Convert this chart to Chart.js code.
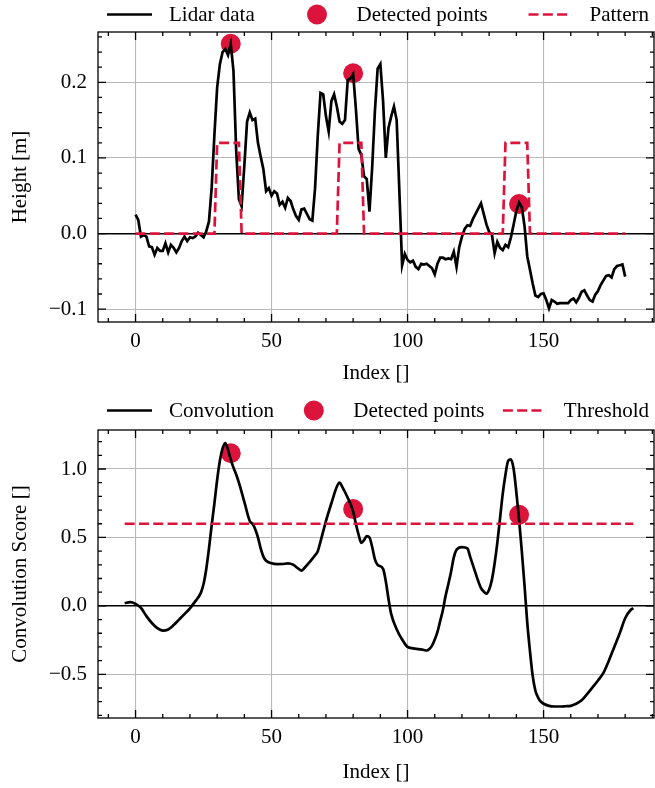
<!DOCTYPE html>
<html>
<head>
<meta charset="utf-8">
<script src="https://cdn.jsdelivr.net/npm/chart.js@4.4.1/dist/chart.umd.min.js"></script>
<style>
  html, body { margin: 0; padding: 0; background: #fff; }
  #wrap { position: relative; width: 655px; height: 788px; }
  canvas { position: absolute; left: 0; }
</style>
</head>
<body>
<div id="wrap">
  <canvas id="lidarChart" width="655" height="392" style="top:0"></canvas>
  <canvas id="convChart" width="655" height="396" style="top:392px"></canvas>
</div>
<script>
// ---- data ----
const lidarHeight = [
  0.025, 0.018, -0.004, -0.002, -0.004, -0.017, -0.018, -0.028, -0.019, -0.023,
  -0.023, -0.013, -0.025, -0.015, -0.019, -0.025, -0.019, -0.010, -0.004, -0.010,
  -0.005, -0.006, -0.004, 0.001, -0.002, -0.005, 0.003, 0.016, 0.061, 0.131,
  0.193, 0.224, 0.240, 0.244, 0.236, 0.251, 0.215, 0.110, 0.045, 0.036,
  0.090, 0.148, 0.160, 0.150, 0.152, 0.120, 0.102, 0.085, 0.056, 0.060,
  0.050, 0.056, 0.053, 0.038, 0.042, 0.034, 0.047, 0.043, 0.032, 0.023,
  0.018, 0.032, 0.033, 0.026, 0.019, 0.017, 0.060, 0.130, 0.186, 0.184,
  0.155, 0.135, 0.175, 0.184, 0.168, 0.148, 0.145, 0.150, 0.203, 0.205,
  0.211, 0.165, 0.112, 0.104, 0.076, 0.072, 0.029, 0.088, 0.162, 0.218,
  0.224, 0.175, 0.100, 0.140, 0.155, 0.168, 0.150, 0.055, -0.042, -0.027,
  -0.035, -0.038, -0.036, -0.044, -0.047, -0.040, -0.041, -0.040, -0.043, -0.046,
  -0.054, -0.040, -0.032, -0.032, -0.034, -0.033, -0.034, -0.024, -0.044, -0.018,
  -0.004, 0.006, 0.011, 0.010, 0.019, 0.026, 0.033, 0.040, 0.026, 0.012,
  0.002, -0.001, -0.026, -0.011, -0.019, -0.022, -0.015, -0.018, -0.005, 0.012,
  0.030, 0.041, 0.035, 0.010, -0.030, -0.048, -0.066, -0.082, -0.084, -0.080,
  -0.079, -0.088, -0.099, -0.088, -0.090, -0.093, -0.092, -0.092, -0.092, -0.092,
  -0.088, -0.086, -0.091, -0.085, -0.077, -0.075, -0.082, -0.088, -0.090, -0.081,
  -0.076, -0.068, -0.062, -0.056, -0.055, -0.058, -0.047, -0.043, -0.042, -0.041,
  -0.057
];

const patternIndex = [0, 29, 30, 38, 39, 74, 75, 83, 84, 135, 136, 144, 145, 180];
const patternHeight = [0, 0, 0.12, 0.12, 0, 0, 0.12, 0.12, 0, 0, 0.12, 0.12, 0, 0];

const detectedIndex = [35, 80, 141];
const detectedHeight = [0.251, 0.212, 0.039];
const detectedScore = [1.115, 0.707, 0.666];

const convIndex = [
  -4, -2, 0, 2, 4, 6, 8, 10, 12, 14, 16, 18, 20, 22, 24, 25, 26, 27, 28, 29,
  30, 31, 32, 33, 34, 35, 36, 37, 38, 40, 42, 43, 44, 45, 46, 47, 48, 50, 52, 54,
  56, 58, 60, 61, 62, 64, 66, 67, 68, 70, 72, 74, 75, 76, 78, 80, 81, 82, 83, 84,
  85, 86, 87, 88, 89, 91, 92, 93, 94, 96, 98, 100, 102, 104, 106, 107, 108, 109, 110, 111,
  112, 113, 114, 115, 116, 117, 118, 120, 122, 123, 124, 126, 127, 128, 129, 130, 131, 132, 133, 134,
  135, 136, 137, 138, 139, 140, 141, 142, 143, 144, 145, 146, 147, 148, 149, 150, 152, 154, 156, 158,
  160, 162, 164, 166, 168, 170, 172, 174, 176, 178, 180, 182, 183
];
const convScore = [
  0.020, 0.027, 0.015, -0.015, -0.075, -0.125, -0.163, -0.180, -0.172, -0.140,
  -0.100, -0.060, -0.018, 0.035, 0.095, 0.160, 0.270, 0.420, 0.590, 0.750,
  0.920, 1.060, 1.150, 1.190, 1.140, 1.070, 1.010, 0.960, 0.900, 0.760,
  0.620, 0.600, 0.560, 0.500, 0.420, 0.360, 0.330, 0.311, 0.305, 0.306,
  0.310, 0.300, 0.270, 0.258, 0.275, 0.320, 0.370, 0.400, 0.470, 0.620,
  0.750, 0.870, 0.900, 0.870, 0.790, 0.690, 0.600, 0.520, 0.460, 0.480,
  0.510, 0.500, 0.430, 0.340, 0.300, 0.270, 0.180, 0.050, -0.060, -0.170,
  -0.245, -0.300, -0.310, -0.316, -0.322, -0.326, -0.315, -0.290, -0.245, -0.190,
  -0.110, -0.030, 0.075, 0.160, 0.250, 0.355, 0.410, 0.430, 0.420, 0.360,
  0.300, 0.180, 0.130, 0.105, 0.090, 0.120, 0.190, 0.310, 0.460, 0.640,
  0.820, 0.960, 1.060, 1.070, 1.000, 0.830, 0.630, 0.400, 0.150, -0.120,
  -0.330, -0.510, -0.620, -0.670, -0.700, -0.715, -0.730, -0.735, -0.735, -0.733,
  -0.730, -0.715, -0.690, -0.645, -0.595, -0.545, -0.490, -0.400, -0.300, -0.200,
  -0.090, -0.030, -0.017
];

const thresholdIndex = [-4, 183];
const thresholdScore = 0.6;

const indexTicks = [0, 50, 100, 150];
const indexTickLabels = ['0', '50', '100', '150'];
const heightTicks = [-0.1, 0, 0.1, 0.2];
const heightTickLabels = ['\u22120.1', '0.0', '0.1', '0.2'];
const scoreTicks = [-0.5, 0, 0.5, 1.0];
const scoreTickLabels = ['\u22120.5', '0.0', '0.5', '1.0'];

// ---- style ----
const CRIMSON = '#DC143C';
const GRID = '#b8b8b8';
const FONT = '"Liberation Serif", "Times New Roman", serif';
Chart.defaults.font.family = FONT;
Chart.defaults.font.size = 21;
Chart.defaults.color = '#000';

const toXY = (xs, ys) => xs.map((x, i) => ({x: x, y: ys[i]}));

// matplotlib-like legend spread across the axes width
const sciLegend = {
    id: 'sciLegend',
    afterDraw(chart, args, opts) {
        const ctx = chart.ctx;
        const area = chart.chartArea;
        const handle = 45, pad = 17;
        ctx.save();
        ctx.font = '21px ' + FONT;
        ctx.textBaseline = 'middle';
        ctx.fillStyle = '#000';
        const items = opts.order.map(i => chart.data.datasets[i]);
        const widths = items.map(ds => handle + pad + ctx.measureText(ds.label).width);
        const left = area.left + 9, right = area.right - 5;
        const gap = (right - left - widths.reduce((a, b) => a + b, 0)) / (items.length - 1);
        let x = left;
        items.forEach((ds, k) => {
            if (ds.showLine === false) {
                ctx.beginPath();
                ctx.fillStyle = ds.pointBackgroundColor;
                ctx.arc(x + handle / 2, opts.y, ds.pointRadius, 0, Math.PI * 2);
                ctx.fill();
            } else {
                // dashed handle is trimmed so it ends on a full dash
                const inset = ds.borderDash ? 1 : 0;
                ctx.beginPath();
                ctx.strokeStyle = ds.borderColor;
                ctx.lineWidth = ds.borderWidth;
                ctx.setLineDash(ds.borderDash || []);
                ctx.moveTo(x + inset, opts.y);
                ctx.lineTo(x + handle - inset, opts.y);
                ctx.stroke();
                ctx.setLineDash([]);
            }
            ctx.fillStyle = '#000';
            ctx.fillText(ds.label, x + handle + pad, opts.y + 1);
            x += widths[k] + gap;
        });
        ctx.restore();
    }
};

// box frame with inward major/minor ticks on all four sides
const sciFrame = {
    id: 'sciFrame',
    afterDraw(chart, args, opts) {
        const {ctx, chartArea: a} = chart;
        const sx = chart.scales.x, sy = chart.scales.y;
        ctx.save();
        ctx.strokeStyle = '#000';
        ctx.lineWidth = 1.3;
        ctx.strokeRect(a.left, a.top, a.right - a.left, a.bottom - a.top);
        ctx.beginPath();
        const isMajor = (v, majors) => majors.some(m => Math.abs(m - v) < 1e-9);
        for (let k = Math.ceil(sx.min / opts.minorX); k * opts.minorX <= sx.max; k++) {
            const v = k * opts.minorX;
            const len = isMajor(v, indexTicks) ? 8 : 4;
            const px = sx.getPixelForValue(v);
            ctx.moveTo(px, a.bottom); ctx.lineTo(px, a.bottom - len);
            ctx.moveTo(px, a.top); ctx.lineTo(px, a.top + len);
        }
        for (let k = Math.ceil(sy.min / opts.minorY - 1e-9); k * opts.minorY <= sy.max + 1e-9; k++) {
            const v = k * opts.minorY;
            const len = isMajor(v, opts.majorY) ? 8 : 4;
            const py = sy.getPixelForValue(v);
            ctx.moveTo(a.left, py); ctx.lineTo(a.left + len, py);
            ctx.moveTo(a.right, py); ctx.lineTo(a.right - len, py);
        }
        ctx.stroke();
        ctx.restore();
    }
};

function xScale(titlePad) {
    return {
        type: 'linear', min: -13.8, max: 190.6,
        afterBuildTicks: s => { s.ticks = indexTicks.map(v => ({value: v})); },
        afterFit: s => { s.height = 70; s.paddingLeft = 0; s.paddingRight = 0; },
        ticks: { padding: 6.5, autoSkip: false, maxRotation: 0, callback: (v, i) => indexTickLabels[i] },
        grid: { color: GRID, lineWidth: 1.1, drawTicks: false },
        border: { display: false },
        title: { display: true, text: 'Index []', padding: {top: 0, bottom: titlePad} }
    };
}

function yScale(min, max, majors, labels, title) {
    return {
        type: 'linear', min: min, max: max,
        afterBuildTicks: s => { s.ticks = majors.map(v => ({value: v})); },
        afterFit: s => { s.width = 98; s.paddingTop = 0; s.paddingBottom = 0; },
        ticks: { padding: 11, autoSkip: false, callback: (v, i) => labels[i] },
        grid: {
            drawTicks: false,
            color: c => (c.tick && c.tick.value === 0) ? '#000' : GRID,
            lineWidth: c => (c.tick && c.tick.value === 0) ? 1.5 : 1.1
        },
        border: { display: false },
        title: { display: true, text: title, padding: {top: 7.4, bottom: 0} }
    };
}

new Chart(document.getElementById('lidarChart'), {
    type: 'line',
    data: {
        datasets: [{
            label: 'Lidar data',
            data: lidarHeight.map((v, i) => ({x: i, y: v})),
            borderColor: '#000', borderWidth: 2.7, pointRadius: 0, tension: 0,
            borderJoin: 'round', order: 2
        }, {
            label: 'Detected points',
            data: toXY(detectedIndex, detectedHeight),
            showLine: false, pointRadius: 10, pointBackgroundColor: CRIMSON,
            pointBorderWidth: 0, borderColor: CRIMSON, order: 3
        }, {
            label: 'Pattern',
            data: toXY(patternIndex, patternHeight),
            borderColor: CRIMSON, borderWidth: 2.7, borderDash: [10, 4.3],
            pointRadius: 0, tension: 0, order: 1
        }]
    },
    options: {
        responsive: false, animation: false, devicePixelRatio: 1,
        layout: { autoPadding: false, padding: {top: 32, right: 1, bottom: 0, left: 0} },
        plugins: {
            legend: { display: false }, tooltip: { enabled: false },
            sciLegend: { order: [0, 1, 2], y: 14.5 },
            sciFrame: { minorX: 10, minorY: 0.02, majorY: heightTicks }
        },
        scales: {
            x: xScale(6.4),
            y: yScale(-0.117, 0.2665, heightTicks, heightTickLabels, 'Height [m]')
        }
    },
    plugins: [sciLegend, sciFrame]
});

new Chart(document.getElementById('convChart'), {
    type: 'line',
    data: {
        datasets: [{
            label: 'Convolution',
            data: toXY(convIndex, convScore),
            borderColor: '#000', borderWidth: 2.7, pointRadius: 0,
            cubicInterpolationMode: 'monotone', order: 2
        }, {
            label: 'Detected points',
            data: toXY(detectedIndex, detectedScore),
            showLine: false, pointRadius: 10, pointBackgroundColor: CRIMSON,
            pointBorderWidth: 0, borderColor: CRIMSON, order: 3
        }, {
            label: 'Threshold',
            data: thresholdIndex.map(x => ({x: x, y: thresholdScore})),
            borderColor: CRIMSON, borderWidth: 2.7, borderDash: [10, 4.3],
            pointRadius: 0, tension: 0, order: 1
        }]
    },
    options: {
        responsive: false, animation: false, devicePixelRatio: 1,
        layout: { autoPadding: false, padding: {top: 38, right: 1, bottom: 0, left: 0} },
        plugins: {
            legend: { display: false }, tooltip: { enabled: false },
            sciLegend: { order: [0, 1, 2], y: 18.5 },
            sciFrame: { minorX: 10, minorY: 0.1, majorY: scoreTicks }
        },
        scales: {
            x: xScale(3.4),
            y: yScale(-0.819, 1.285, scoreTicks, scoreTickLabels, 'Convolution Score []')
        }
    },
    plugins: [sciLegend, sciFrame]
});
</script>
</body>
</html>
